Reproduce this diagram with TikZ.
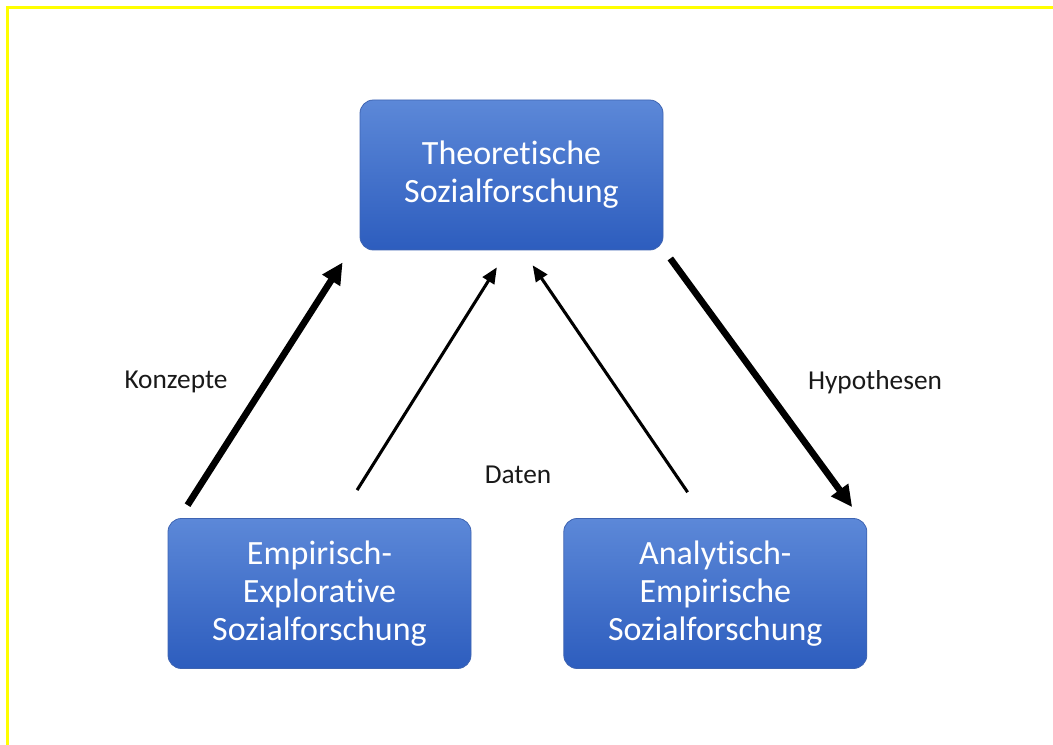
\documentclass[tikz,border=0pt]{standalone}
\usepackage{fontspec}
\setmainfont[Ligatures=NoCommon]{Carlito}
\usepackage{tikz}
\usetikzlibrary{arrows.meta,positioning,calc}

\definecolor{boxtop}{RGB}{92,136,216}
\definecolor{boxbot}{RGB}{45,93,190}
\definecolor{boxline}{RGB}{62,100,178}
\definecolor{frameyellow}{RGB}{255,255,0}

\begin{document}
\begin{tikzpicture}[
    x=0.75pt, y=-0.75pt,
    node distance=69pt,
    box/.style={rectangle, draw=boxline, line width=0.6pt, rounded corners=10pt, top color=boxtop, bottom color=boxbot, minimum width=227.25pt, minimum height=112.5pt, inner sep=0pt, align=center, text=white, font=\fontsize{25.5}{28.5}\selectfont},
    lbl/.style={text=black!90, font=\fontsize{20.5}{24}\selectfont},
    bigarrow/.style={-{Triangle[length=16pt,width=15pt]}, line width=5pt},
    thinarrow/.style={-{Triangle[length=12pt,width=10pt]}, line width=2.3pt}
]
\useasboundingbox (0,0) rectangle (1053,745);
\draw[frameyellow, line width=2.25pt] (7,745) -- (7,7.5) -- (1053,7.5);

\node[box] (theo) at (511.5,175) {Theoretische\\Sozialforschung};
\node[box] (emp) at (319.5,593.5) {Empirisch-\\Explorative\\Sozialforschung};
\node[box, right=of emp] (ana) {Analytisch-\\Empirische\\Sozialforschung};

\node[lbl] (konz) at (176,382) {Konzepte};
\node[lbl] (daten) at (518,475) {Daten};
\node[lbl] (hypo) at (875,382) {Hypothesen};

\draw[bigarrow, shorten <=11.5pt, shorten >=10.7pt] ($(emp.north west)+(11.7,0)$) -- ($(theo.south west)+(-9.3,0)$);
\draw[thinarrow, shorten <=24.8pt, shorten >=15pt] ($(emp.north)+(20,0)$) -- ($(theo.south)+(-4,0)$);
\draw[thinarrow, shorten <=23.5pt, shorten >=13.5pt] ($(ana.north)+(-10,0)$) -- ($(theo.south)+(11,0)$);
\draw[bigarrow, shorten <=7.5pt, shorten >=10.2pt] ($(theo.south east)+(1,0)$) -- ($(ana.north east)+(-7,0)$);

\end{tikzpicture}
\end{document}
